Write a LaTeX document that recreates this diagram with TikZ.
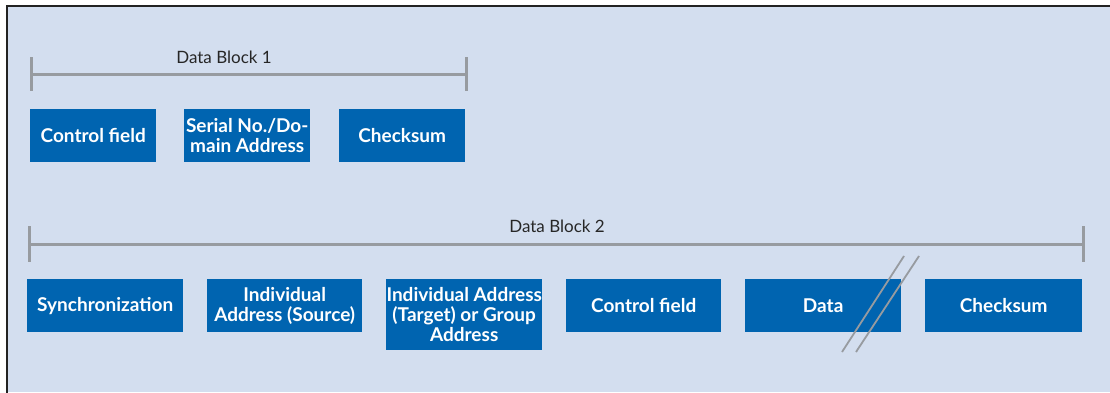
\documentclass[tikz,border=0pt]{standalone}
\usepackage{fontspec}
\setmainfont{Lato}
\definecolor{bgblue}{HTML}{D3DEEF}
\definecolor{boxblue}{HTML}{0064B0}
\definecolor{bargray}{HTML}{979BA0}
\definecolor{frame}{HTML}{222222}
\begin{document}
\begin{tikzpicture}[x=1pt,y=-1pt,
  fieldbox/.style={fill=boxblue, text=white, anchor=north west, inner sep=0pt,
    align=center, font=\fontsize{19}{20}\selectfont\bfseries},
  smallbox/.style={fieldbox, minimum width=126pt, minimum height=53pt},
  widebox/.style={fieldbox, minimum width=156pt, minimum height=53pt},
  bar/.style={draw=bargray, line width=3pt},
  slash/.style={draw=bargray, line width=1.8pt},
  blocklabel/.style={text=black!85, font=\fontsize{17}{20}\selectfont, inner sep=0pt}]
\useasboundingbox (0,0) rectangle (1110,392);
\fill[white] (0,0) rectangle (1110,392);
\fill[bgblue] (7,6) rectangle (1110,392);
\draw[frame, line width=1.5pt] (7,393) -- (7,6) -- (1110,6);

% Data block 1
\coordinate (b1l) at (31,74);
\coordinate (b1r) at (466,74);
\coordinate (b1lt) at (31,57);
\coordinate (b1lb) at (31,91);
\coordinate (b1rt) at (466,57);
\coordinate (b1rb) at (466,91);
\draw[bar] (b1l) -- (b1r);
\draw[bar] (b1lt) -- (b1lb);
\draw[bar] (b1rt) -- (b1rb);
\node[blocklabel] (lab1) at (224,57) {Data Block 1};

\node[smallbox] (cf1) at (30,109) {Control field};
\node[smallbox] (sn) at (184,109) {Serial No./Do-\\main Address};
\node[smallbox] (cs1) at (339,109) {Checksum};

% Data block 2
\coordinate (b2l) at (29,244);
\coordinate (b2r) at (1083,244);
\coordinate (b2lt) at (29,226);
\coordinate (b2lb) at (29,262);
\coordinate (b2rt) at (1083,226);
\coordinate (b2rb) at (1083,262);
\draw[bar] (b2l) -- (b2r);
\draw[bar] (b2lt) -- (b2lb);
\draw[bar] (b2rt) -- (b2rb);
\node[blocklabel] (lab2) at (557,226) {Data Block 2};

\node[widebox] (sync) at (27,279) {Synchronization};
\node[widebox, minimum width=155pt] (src) at (207,279) {Individual\\Address (Source)};
\node[widebox, minimum height=71pt] (tgt) at (386,279) {Individual Address\\(Target) or Group\\Address};
\node[widebox, minimum width=155pt] (cf2) at (566,279) {Control field};
\node[widebox] (data) at (745,279) {Data};
\node[widebox, minimum width=157pt] (cs2) at (925,279) {Checksum};

% break marks
\coordinate (s1a) at (842,352);
\coordinate (s1b) at (904,256);
\coordinate (s2a) at (856,352);
\coordinate (s2b) at (919,256);
\draw[slash] (s1a) -- (s1b);
\draw[slash] (s2a) -- (s2b);
\end{tikzpicture}
\end{document}
